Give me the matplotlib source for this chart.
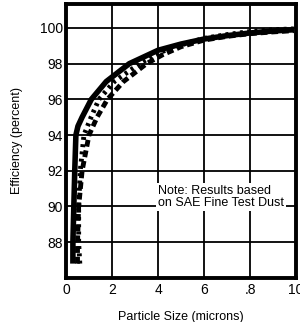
import matplotlib
matplotlib.use('Agg')
import matplotlib.pyplot as plt

plt.rcParams['font.family'] = ['Liberation Sans', 'DejaVu Sans']

# solid curve
x1 = [0.3, 0.3, 0.34, 0.38, 0.43, 0.52, 0.7, 1.1, 1.75, 2.75, 4.0, 5.0, 6.0, 7.0, 8.0, 9.0, 9.9]
y1 = [86.8, 88, 90, 92, 94, 94.5, 95, 96, 97, 98.0, 98.75, 99.1, 99.38, 99.57, 99.72, 99.83, 99.9]
# dotted curve
x2 = [0.6, 0.55, 0.55, 0.62, 0.78, 1.09, 1.43, 2.1, 3.2, 4.0, 5.0, 6.0, 7.0, 8.0, 9.0, 9.9]
y2 = [86.8, 88, 90, 92, 94, 95, 96, 97, 98.0, 98.6, 99.05, 99.42, 99.63, 99.8, 99.9, 99.95]
# dashed curve
x3 = [0.5, 0.5, 0.55, 0.7, 1.0, 1.35, 1.8, 2.5, 3.5, 4.2, 5.0, 6.0, 7.0, 8.0, 9.0, 9.9]
y3 = [86.8, 88, 90, 92, 94, 95, 96, 97, 98.0, 98.5, 98.95, 99.32, 99.53, 99.68, 99.78, 99.85]

xticks = [0, 2, 4, 6, 8, 10]
xlabels = ['0', '2', '4', '6', '.8', '10']
yticks = [88, 90, 92, 94, 96, 98, 100]

fig = plt.figure(figsize=(3.0, 3.22), dpi=100)
ax = fig.add_axes([0.22, 0.137, 0.767, 0.851])

ax.plot(x1, y1, color='black', lw=4, solid_capstyle='butt', zorder=4)
ax.plot(x2, y2, color='black', lw=3.5, linestyle=(0, (0.6, 0.9)), zorder=3)
ax.plot(x3, y3, color='black', lw=3.5, linestyle=(0, (1.4, 0.8)), zorder=3)

ax.set_xlim(0, 10)
ax.set_ylim(86, 101.35)
ax.set_xticks(xticks)
ax.set_xticklabels(xlabels)
ax.set_yticks(yticks)
ax.tick_params(length=0, labelsize=10)
ax.tick_params(axis='x', pad=4)
ax.tick_params(axis='y', pad=2)
ax.grid(True, color='black', lw=1.3)
ax.set_axisbelow(True)
for s in ax.spines.values():
    s.set_linewidth(2.8)

ax.set_xlabel('Particle Size (microns)', fontsize=9, labelpad=10)
ax.set_ylabel('Efficiency (percent)', fontsize=9, labelpad=12)

ax.text(4.0, 89.85, 'Note: Results based\non SAE Fine Test Dust', fontsize=9,
        linespacing=1.05, va='bottom', ha='left', zorder=5,
        bbox=dict(facecolor='white', edgecolor='none', pad=1.5))

fig.savefig('out.png', dpi=100)
